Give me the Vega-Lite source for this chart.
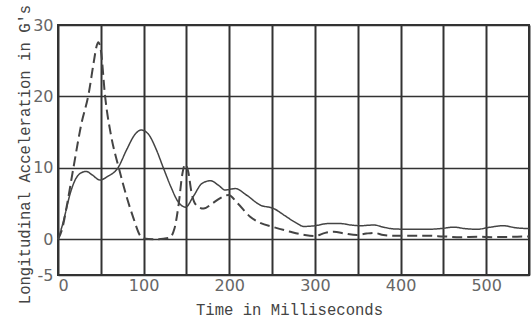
{
  "$schema": "https://vega.github.io/schema/vega-lite/v6.json",
  "width": 471,
  "height": 250,
  "autosize": {"type": "none"},
  "padding": {"left": 58, "top": 25, "right": 3, "bottom": 45},
  "background": "white",
  "config": {
    "view": {"stroke": "#333", "strokeWidth": 2},
    "axis": {"domain": false, "ticks": false, "labelFont": "DejaVu Sans", "labelFontSize": 16, "labelColor": "#666", "labelFontWeight": "normal", "titleFont": "Liberation Mono", "titleFontSize": 15.6, "titleFontWeight": "normal", "titleColor": "#444", "gridColor": "#333", "gridOpacity": 1}
  },
  "data": {
    "values": [
      {"s": "dashed", "t": 0, "g": 0}, {"s": "dashed", "t": 5, "g": 1.5}, {"s": "dashed", "t": 10, "g": 4.5}, {"s": "dashed", "t": 18, "g": 10}, {"s": "dashed", "t": 27, "g": 16}, {"s": "dashed", "t": 36, "g": 20.5}, {"s": "dashed", "t": 42, "g": 25}, {"s": "dashed", "t": 45, "g": 27}, {"s": "dashed", "t": 47, "g": 27.6}, {"s": "dashed", "t": 50, "g": 26.5}, {"s": "dashed", "t": 55, "g": 20}, {"s": "dashed", "t": 62, "g": 14.5}, {"s": "dashed", "t": 71, "g": 10}, {"s": "dashed", "t": 80, "g": 6}, {"s": "dashed", "t": 88, "g": 3}, {"s": "dashed", "t": 96, "g": 0.5}, {"s": "dashed", "t": 100, "g": 0.1}, {"s": "dashed", "t": 115, "g": 0}, {"s": "dashed", "t": 130, "g": 0.2}, {"s": "dashed", "t": 136, "g": 1.5}, {"s": "dashed", "t": 141, "g": 5}, {"s": "dashed", "t": 145, "g": 9}, {"s": "dashed", "t": 148.5, "g": 10.5}, {"s": "dashed", "t": 152, "g": 9.5}, {"s": "dashed", "t": 156, "g": 6.5}, {"s": "dashed", "t": 162, "g": 4.7}, {"s": "dashed", "t": 170, "g": 4.3}, {"s": "dashed", "t": 180, "g": 5}, {"s": "dashed", "t": 190, "g": 5.8}, {"s": "dashed", "t": 199, "g": 6.2}, {"s": "dashed", "t": 210, "g": 5}, {"s": "dashed", "t": 224, "g": 3.2}, {"s": "dashed", "t": 236, "g": 2.3}, {"s": "dashed", "t": 252, "g": 1.7}, {"s": "dashed", "t": 270, "g": 1.1}, {"s": "dashed", "t": 288, "g": 0.6}, {"s": "dashed", "t": 300, "g": 0.45}, {"s": "dashed", "t": 312, "g": 0.9}, {"s": "dashed", "t": 322, "g": 1.05}, {"s": "dashed", "t": 335, "g": 0.8}, {"s": "dashed", "t": 349, "g": 0.6}, {"s": "dashed", "t": 360, "g": 0.8}, {"s": "dashed", "t": 369, "g": 0.9}, {"s": "dashed", "t": 380, "g": 0.6}, {"s": "dashed", "t": 392, "g": 0.5}, {"s": "dashed", "t": 410, "g": 0.5}, {"s": "dashed", "t": 431, "g": 0.5}, {"s": "dashed", "t": 450, "g": 0.4}, {"s": "dashed", "t": 470, "g": 0.3}, {"s": "dashed", "t": 490, "g": 0.35}, {"s": "dashed", "t": 509, "g": 0.3}, {"s": "dashed", "t": 530, "g": 0.35}, {"s": "dashed", "t": 550, "g": 0.4},
      {"s": "solid", "t": 0, "g": 0}, {"s": "solid", "t": 4, "g": 1.5}, {"s": "solid", "t": 8.5, "g": 3.6}, {"s": "solid", "t": 14, "g": 6.3}, {"s": "solid", "t": 20, "g": 8.3}, {"s": "solid", "t": 27, "g": 9.3}, {"s": "solid", "t": 33, "g": 9.5}, {"s": "solid", "t": 40, "g": 9}, {"s": "solid", "t": 49, "g": 8.3}, {"s": "solid", "t": 58, "g": 8.8}, {"s": "solid", "t": 70, "g": 10}, {"s": "solid", "t": 80, "g": 12.5}, {"s": "solid", "t": 90, "g": 14.7}, {"s": "solid", "t": 97, "g": 15.3}, {"s": "solid", "t": 105, "g": 14.8}, {"s": "solid", "t": 115, "g": 12.5}, {"s": "solid", "t": 123, "g": 10}, {"s": "solid", "t": 132, "g": 7.3}, {"s": "solid", "t": 140, "g": 5.3}, {"s": "solid", "t": 149, "g": 4.5}, {"s": "solid", "t": 158, "g": 6}, {"s": "solid", "t": 168, "g": 7.8}, {"s": "solid", "t": 178, "g": 8.2}, {"s": "solid", "t": 188, "g": 7.5}, {"s": "solid", "t": 195, "g": 6.9}, {"s": "solid", "t": 207, "g": 7.1}, {"s": "solid", "t": 220, "g": 6.2}, {"s": "solid", "t": 236, "g": 4.8}, {"s": "solid", "t": 252, "g": 4.3}, {"s": "solid", "t": 265, "g": 3.3}, {"s": "solid", "t": 278, "g": 2.3}, {"s": "solid", "t": 287, "g": 1.8}, {"s": "solid", "t": 300, "g": 1.9}, {"s": "solid", "t": 315, "g": 2.2}, {"s": "solid", "t": 330, "g": 2.2}, {"s": "solid", "t": 342, "g": 2.0}, {"s": "solid", "t": 353, "g": 1.9}, {"s": "solid", "t": 369, "g": 2.0}, {"s": "solid", "t": 380, "g": 1.7}, {"s": "solid", "t": 392, "g": 1.45}, {"s": "solid", "t": 410, "g": 1.4}, {"s": "solid", "t": 431, "g": 1.4}, {"s": "solid", "t": 447, "g": 1.5}, {"s": "solid", "t": 462, "g": 1.7}, {"s": "solid", "t": 475, "g": 1.5}, {"s": "solid", "t": 489, "g": 1.4}, {"s": "solid", "t": 505, "g": 1.7}, {"s": "solid", "t": 520, "g": 1.9}, {"s": "solid", "t": 535, "g": 1.6}, {"s": "solid", "t": 550, "g": 1.5}
    ]
  },
  "mark": {"type": "line", "interpolate": "monotone", "color": "#444"},
  "encoding": {
    "x": {
      "field": "t", "type": "quantitative",
      "scale": {"domain": [0, 550], "nice": false, "zero": false},
      "axis": {
        "title": "Time in Milliseconds",
        "values": [0, 50, 100, 150, 200, 250, 300, 350, 400, 450, 500, 550],
        "labelExpr": "datum.value % 100 === 0 ? datum.label : ''",
        "labelPadding": 2,
        "gridWidth": 2,
        "titleX": 231, "titleY": 39, "titleBaseline": "alphabetic"
      }
    },
    "y": {
      "field": "g", "type": "quantitative",
      "scale": {"domain": [-5, 30], "nice": false, "zero": false},
      "axis": {
        "title": "Longitudinal Acceleration in G's",
        "values": [-5, 0, 10, 20, 30],
        "labelExpr": "datum.value < 0 ? '-5' : datum.label",
        "labelPadding": 5,
        "gridWidth": 1.5,
        "titleX": -29, "titleY": 129, "titleBaseline": "alphabetic", "titleAngle": 270
      }
    },
    "strokeDash": {
      "field": "s", "type": "nominal",
      "scale": {"domain": ["dashed", "solid"], "range": [[10, 5], [1, 0]]},
      "legend": null
    },
    "strokeWidth": {
      "field": "s", "type": "nominal",
      "scale": {"domain": ["dashed", "solid"], "range": [2, 1.5]},
      "legend": null
    }
  }
}
